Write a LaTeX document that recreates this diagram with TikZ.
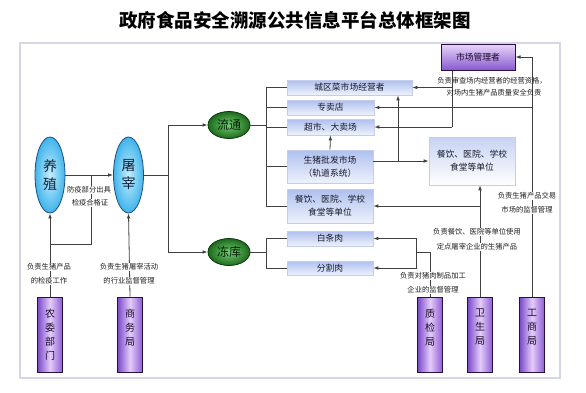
\documentclass[tikz,border=0pt]{standalone}
\usepackage{fontspec}
\newfontfamily\cjk{Noto Sans CJK SC}
\usetikzlibrary{shapes.geometric,arrows.meta,calc}
\definecolor{linec}{HTML}{404040}
\definecolor{framec}{HTML}{D6D6E6}
\definecolor{eborder}{HTML}{1E4E8C}
\definecolor{ebin}{HTML}{C4EEFF}
\definecolor{ebout}{HTML}{40B4EA}
\definecolor{etext}{HTML}{10203A}
\definecolor{gborder}{HTML}{0C3A0C}
\definecolor{gin}{HTML}{74CC74}
\definecolor{gout}{HTML}{1C6A1C}
\definecolor{gtext}{HTML}{062006}
\definecolor{bbdraw}{HTML}{C4CEEC}
\definecolor{bbtop}{HTML}{AFC0EE}
\definecolor{bbbot}{HTML}{EEF2FD}
\definecolor{btext}{HTML}{1A1A2A}
\definecolor{pdraw}{HTML}{2A1040}
\definecolor{pleft}{HTML}{7A48C8}
\definecolor{pmid}{HTML}{E4CCFA}
\definecolor{pright}{HTML}{8C5CD4}
\definecolor{ptext}{HTML}{1A0A2A}
\definecolor{ltext}{HTML}{202020}
\begin{document}
\begin{tikzpicture}[x=1pt,y=-1pt,
  line/.style={draw=linec,line width=0.8pt},
  arr/.style={line,-{Latex[length=5pt,width=3.6pt]}},
  eb/.style={ellipse,draw=eborder,line width=0.8pt,inner color=ebin,outer color=ebout,
    minimum width=30pt,minimum height=76pt,inner sep=0pt,
    font=\cjk\fontsize{14}{18}\selectfont,text=etext,align=center},
  eg/.style={ellipse,draw=gborder,line width=0.8pt,inner color=gin,outer color=gout,
    minimum width=42pt,minimum height=27pt,inner sep=0pt,
    font=\cjk\fontsize{12}{14}\selectfont,text=gtext},
  bb/.style={rectangle,draw=bbdraw,line width=0.6pt,top color=bbtop,bottom color=bbbot,
    inner sep=0pt,font=\cjk\fontsize{8.8}{13}\selectfont,align=center,text=btext},
  pb/.style={rectangle,draw=pdraw,line width=1pt,left color=pleft,right color=pright,middle color=pmid,
    minimum width=25pt,minimum height=75pt,inner sep=0pt,
    font=\cjk\fontsize{10}{14}\selectfont,align=center,text=ptext},
  lab/.style={fill=white,inner sep=0.6pt,font=\cjk\fontsize{7.3}{9}\selectfont,text=ltext},
  lab2/.style={inner sep=0.6pt,font=\cjk\fontsize{7.3}{9}\selectfont,text=ltext},
]
\useasboundingbox (0,0) rectangle (586,392);
\fill[white] (0,0) rectangle (586,392);
\node[font=\cjk\bfseries\fontsize{18.5}{20}\selectfont] (title) at (295,20) {政府食品安全溯源公共信息平台总体框架图};
\draw[draw=framec,line width=1.5pt,fill=white] (20,43) rectangle (560,378);

% main nodes
\node[eb] (yz) at (50,175) {养\\殖};
\node[eb] (tz) at (128.5,175) {屠\\宰};
\node[eg] (lt) at (229,125) {流通};
\node[eg] (dk) at (229,252) {冻库};

\node[bb,minimum width=125pt,minimum height=15pt] (b1) at (349.5,87.5) {城区菜市场经营者};
\node[bb,minimum width=87pt,minimum height=15pt] (b2) at (330.5,107.5) {专卖店};
\node[bb,minimum width=87pt,minimum height=16pt] (b3) at (330.5,127) {超市、大卖场};
\node[bb,minimum width=86pt,minimum height=33pt] (b4) at (330,166.5) {生猪批发市场\\（轨道系统）};
\node[bb,minimum width=86pt,minimum height=34pt] (b5) at (330,206) {餐饮、医院、学校\\食堂等单位};
\node[bb,minimum width=86pt,minimum height=15pt] (b6) at (330,238.5) {白条肉};
\node[bb,minimum width=86pt,minimum height=14pt] (b7) at (330,268) {分割肉};
\node[rectangle,draw=bbdraw,line width=0.6pt,top color=bbtop!70,bottom color=white,
  minimum width=86pt,minimum height=48pt,inner sep=0pt,font=\cjk\fontsize{8.8}{13}\selectfont,
  align=center,text=btext] (r1) at (472,161) {餐饮、医院、学校\\食堂等单位};

\node[rectangle,draw=pdraw,line width=1pt,top color=pmid!80,bottom color=pleft!90,
  minimum width=74pt,minimum height=26pt,inner sep=0pt,font=\cjk\fontsize{8.8}{11}\selectfont,text=ptext] (sc) at (478,57) {市场管理者};

\node[pb] (nw) at (50,334.5) {农\\委\\部\\门};
\node[pb] (sw) at (130,334.5) {商\\务\\局\\\phantom{局}};
\node[pb] (zj) at (430,334.5) {质\\检\\局\\\phantom{局}};
\node[pb] (ws) at (480,334.5) {卫\\生\\局\\\phantom{局}};
\node[pb] (gs) at (532,334.5) {工\\商\\局\\\phantom{局}};

% connectors left
\draw[arr] (yz.east) -- (tz.west);
\draw[arr] (nw.north) -- (yz.south);
\coordinate (j1) at (50,244);
\coordinate (j2) at (91,244);
\coordinate (j3) at (91,175);
\draw[line] (j1) -- (j2) -- (j3);
\draw[arr] (sw.north) -- (tz.south);
\coordinate (t1) at (168,175);
\draw[line] (tz.east) -- (t1);
\draw[arr] (t1) |- (lt.west);
\draw[arr] (t1) |- (dk.west);

% distribution
\coordinate (l1) at (266,125);
\draw[line] (lt.east) -- (l1);
\foreach \b in {b1,b2,b3,b4,b5} {\draw[line] (l1) |- (\b.west);}
\coordinate (d1) at (266,252);
\draw[line] (dk.east) -- (d1);
\draw[line] (d1) |- (b6.west);
\draw[line] (d1) |- (b7.west);

\draw[arr] (b4.north) -- (b3.south);
\draw[arr] (b4.east |- r1.west) -- (r1.west);
\coordinate (p2) at (398,161);
\draw[arr] (p2) -- (p2 |- b1.south);

% market manager
\coordinate (s1) at (452,127);
\draw[line] (s1 |- sc.south) -- (s1);
\draw[arr] (s1) -- (b3.east);
\draw[arr] (s1 |- b1.east) -- (b1.east);

% 工商局
\draw[arr] (gs.north) -- (gs.north |- sc.east) -- (sc.east);
\draw[arr] (gs.north |- b2.east) -- (b2.east);

% 卫生局
\draw[arr] (ws.north) -- (ws.north |- r1.south);
\draw[arr] (ws.north |- b5.east) -- (b5.east);

% 质检局
\coordinate (q1) at (430,252);
\coordinate (q2) at (416,252);
\draw[line] (zj.north) -- (q1) -- (q2);
\draw[arr] (q2) |- (b6.east);
\draw[arr] (q2) |- (b7.east);

% labels
\node[lab] (la1) at (89,190) {防疫部分出具};
\node[lab] (la2) at (90,203) {检疫合格证};
\node[lab] (la3) at (49,267) {负责生猪产品};
\node[lab] (la4) at (49,281) {的检疫工作};
\node[lab] (la5) at (129,267) {负责生猪屠宰活动};
\node[lab] (la6) at (129,281) {的行业监督管理};
\node[lab2] (la7) at (492,81) {负责审查场内经营者的经营资格，};
\node[lab2] (la8) at (494,93) {对场内生猪产品质量安全负责};
\node[lab] (la9) at (527,196) {负责生猪产品交易};
\node[lab] (la10) at (527,210) {市场的监督管理};
\node[lab] (la11) at (477,232) {负责餐饮、医院等单位使用};
\node[lab] (la12) at (477,247) {定点屠宰企业的生猪产品};
\node[lab] (la13) at (433,276) {负责对猪肉制品加工};
\node[lab] (la14) at (433,290) {企业的监督管理};
\end{tikzpicture}
\end{document}
